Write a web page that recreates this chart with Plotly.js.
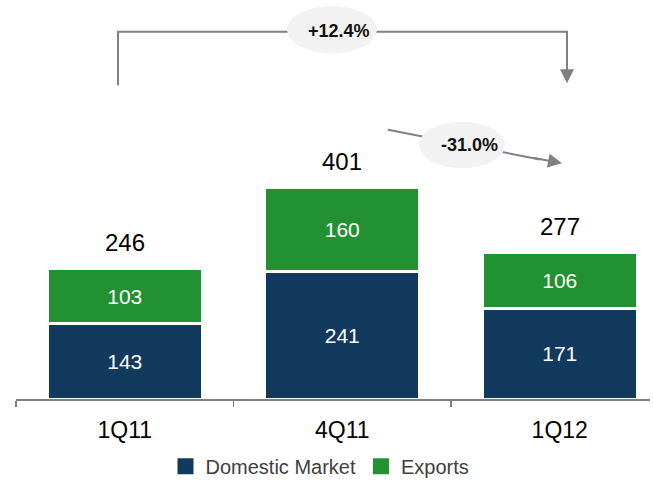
<!DOCTYPE html>
<html>
<head>
<meta charset="utf-8">
<script src="https://cdn.plot.ly/plotly-3.0.1.min.js"></script>
<style>html,body{margin:0;padding:0;background:#fff;}#chart{width:653px;height:486px;}</style>
</head>
<body>
<div id="chart"></div>
<script>
const categories = ["1Q11", "4Q11", "1Q12"];
const domestic = [143, 241, 171];
const exportsV = [103, 160, 106];
const seriesNames = ["Domestic Market", "Exports"];
const growthLabels = ["+12.4%", "-31.0%"];

const totals = domestic.map((d, i) => d + exportsV[i]);

const W = 653, H = 486, ML = 16, MR = 3, MT = 0, MB = 83;
const PW = W - ML - MR, PH = H - MT - MB;
const px = x => (x - ML) / PW;
const py = y => (H - MB - y) / PH;

const FONT = "Liberation Sans, Arial, sans-serif";
const NAVY = "#123A5E", GREEN = "#229131", GRAY = "#808080";

function barTrace(name, vals, color) {
  return {
    type: "bar", name: name, x: categories, y: vals, showlegend: false,
    text: vals.map(String), textposition: "inside", insidetextanchor: "middle",
    textfont: {color: "#ffffff", size: 21, family: FONT},
    marker: {color: color, line: {color: "#ffffff", width: 3}},
    width: 0.713, hoverinfo: "none"
  };
}
function legendTrace(name, color) {
  return {
    type: "scatter", mode: "markers", name: name, x: [categories[0]], y: [null],
    marker: {symbol: "square", size: 16, color: color}, hoverinfo: "none", showlegend: true
  };
}

const traces = [
  barTrace(seriesNames[0], domestic, NAVY),
  barTrace(seriesNames[1], exportsV, GREEN),
  legendTrace(seriesNames[0], NAVY),
  legendTrace(seriesNames[1], GREEN)
];

const annotations = categories.map((c, i) => ({
  x: c, y: totals[i], xref: "x", yref: "y", text: String(totals[i]),
  showarrow: false, xanchor: "center", yanchor: "middle", yshift: 26,
  font: {size: 24, color: "#000000", family: FONT}
}));

annotations.push(
  {xref: "paper", yref: "paper", x: px(567), y: py(84), ax: 0, ay: -20,
   axref: "pixel", ayref: "pixel", showarrow: true, arrowhead: 2, arrowsize: 1.4,
   arrowwidth: 2, arrowcolor: GRAY, text: ""},
  {xref: "paper", yref: "paper", x: px(562), y: py(165), ax: -30, ay: -6,
   axref: "pixel", ayref: "pixel", showarrow: true, arrowhead: 2, arrowsize: 1.4,
   arrowwidth: 2, arrowcolor: GRAY, text: ""},
  {xref: "paper", yref: "paper", x: px(339), y: py(31), xanchor: "center", yanchor: "middle",
   text: "<b>" + growthLabels[0] + "</b>",
   showarrow: false, font: {size: 18, color: "#111111", family: FONT}},
  {xref: "paper", yref: "paper", x: px(469), y: py(146), xanchor: "center", yanchor: "middle",
   text: "<b>" + growthLabels[1] + "</b>",
   showarrow: false, font: {size: 18, color: "#111111", family: FONT}}
);

const P = (x, y) => px(x) + "," + py(y);
const shapes = [
  {type: "path", xref: "paper", yref: "paper",
   path: "M" + P(118, 86) + " L" + P(118, 32) + " L" + P(567, 32) + " L" + P(567, 68),
   line: {color: GRAY, width: 2}},
  {type: "line", xref: "paper", yref: "paper",
   x0: px(388), y0: py(131), x1: px(540), y1: py(161),
   line: {color: GRAY, width: 2}},
  {type: "circle", xref: "paper", yref: "paper",
   x0: px(287), x1: px(377), y0: py(54), y1: py(6),
   fillcolor: "#F2F2F2", line: {width: 0}},
  {type: "circle", xref: "paper", yref: "paper",
   x0: px(419), x1: px(505), y0: py(170), y1: py(123),
   fillcolor: "#F2F2F2", line: {width: 0}}
];

const layout = {
  width: W, height: H,
  margin: {l: ML, r: MR, t: MT, b: MB, pad: 0},
  paper_bgcolor: "#ffffff", plot_bgcolor: "#ffffff",
  barmode: "stack",
  font: {family: FONT},
  showlegend: true,
  legend: {orientation: "h", x: px(320), xanchor: "center", y: py(471), yanchor: "middle",
           font: {size: 20, color: "#404040", family: FONT}, traceorder: "normal",
           itemwidth: 30, itemclick: false},
  xaxis: {type: "category", range: [-0.5, 2.415], showline: true, linecolor: GRAY, linewidth: 1.5,
          ticks: "outside", tickson: "boundaries", ticklen: 6, tickcolor: GRAY, tickwidth: 1.5,
          tickfont: {size: 23, color: "#000000", family: FONT}, ticklabelstandoff: 10,
          showgrid: false, zeroline: false, fixedrange: true},
  yaxis: {range: [0, 754.7], visible: false, showgrid: false, zeroline: false, fixedrange: true},
  shapes: shapes,
  annotations: annotations
};

Plotly.newPlot("chart", traces, layout, {displayModeBar: false, staticPlot: true});
</script>
</body>
</html>
